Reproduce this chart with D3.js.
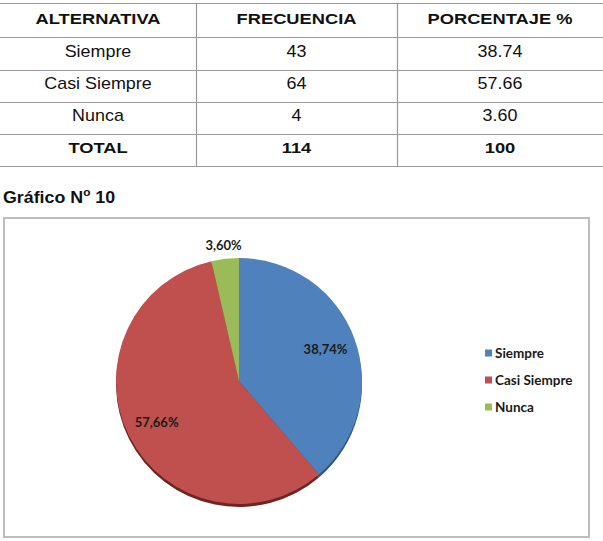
<!DOCTYPE html>
<html><head><meta charset="utf-8">
<script src="https://cdn.jsdelivr.net/npm/d3@7"></script>
<style>body{margin:0;background:#fff;} svg{display:block;}</style>
</head><body>
<svg id="c" width="603" height="541"></svg>
<script>
const headers = ["ALTERNATIVA", "FRECUENCIA", "PORCENTAJE %"];
const categories = ["Siempre", "Casi Siempre", "Nunca"];
const frequencies = [43, 64, 4];
const percentages = [38.74, 57.66, 3.60];
const totalRow = ["TOTAL", "114", "100"];
const colors = ["#4F81BD", "#C0504D", "#9BBB59"];
const shadeColors = ["#2f5482", "#6e2422", "#5c7330"];
const chartTitle = "Gráfico N";

const svg = d3.select("#c");
const font = "'Liberation Sans', Arial, sans-serif";

// ---- Table ----
const colX = [0, 196, 397, 603];
const rowY = [3, 37, 70, 102, 134, 166];
const rows = [headers]
  .concat(categories.map((c, i) => [c, String(frequencies[i]), percentages[i].toFixed(2)]))
  .concat([totalRow]);
const tg = svg.append("g");
rowY.forEach(y => tg.append("line").attr("x1", 0).attr("x2", 603).attr("y1", y + 0.5).attr("y2", y + 0.5)
  .attr("stroke", "#999").attr("stroke-width", 1.2));
[1, 2].forEach(k => tg.append("line").attr("x1", colX[k] + 0.5).attr("x2", colX[k] + 0.5)
  .attr("y1", rowY[0]).attr("y2", rowY[5]).attr("stroke", "#999").attr("stroke-width", 1.2));
rows.forEach((r, ri) => {
  const bold = ri === 0 || ri === rows.length - 1;
  r.forEach((t, ci) => {
    const x = (colX[ci] + colX[ci + 1]) / 2;
    const y = rowY[ri + 1] - 13;
    tg.append("text")
      .attr("transform", `translate(${x},${y}) scale(${bold ? 1.18 : 1.12},1)`)
      .attr("text-anchor", "middle")
      .attr("font-family", font)
      .attr("font-size", bold ? 15.5 : 16)
      .attr("font-weight", bold ? "bold" : "normal")
      .attr("fill", "#111")
      .text(t);
  });
});

// ---- Title ----
const title = svg.append("text").attr("transform", "translate(3,203) scale(1.08,1)")
  .attr("font-family", font).attr("font-size", 16.5).attr("font-weight", "bold").attr("fill", "#111");
title.append("tspan").text(chartTitle);
title.append("tspan").attr("dy", -7).attr("font-size", 11).text("o");
title.append("tspan").attr("dy", 7).text(" 10");

// ---- Chart box ----
svg.append("rect").attr("x", 4).attr("y", 218).attr("width", 585).attr("height", 319)
  .attr("fill", "#fff").attr("stroke", "#bdbdbd").attr("stroke-width", 2);

// ---- Pie ----
const cx = 239, cy = 381, R = 123;
const pie = d3.pie().sort(null).value(d => d)(percentages);
const arc = d3.arc().innerRadius(0).outerRadius(R);
const pg = svg.append("g").attr("transform", `translate(${cx},${cy})`);
// depth shadow
pg.append("g").attr("transform", "translate(0,3)")
  .selectAll("path").data(pie).join("path")
  .attr("d", arc).attr("fill", (d, i) => shadeColors[i]);
pg.selectAll("path.s").data(pie).join("path").attr("class", "s")
  .attr("d", arc).attr("fill", (d, i) => colors[i]);

const inArc = d3.arc().innerRadius(0).outerRadius(R * 1.5);
const outArc = d3.arc().innerRadius(R * 1.11).outerRadius(R * 1.11);
pg.selectAll("text").data(pie).join("text")
  .attr("transform", (d, i) => {
    const p = i === 2 ? outArc.centroid(d) : inArc.centroid(d);
    return `translate(${p[0]},${p[1]})`;
  })
  .attr("text-anchor", "middle").attr("dy", "0.35em")
  .attr("font-family", "Lato, 'Open Sans', sans-serif").attr("font-weight", "bold")
  .attr("font-size", 13).attr("fill", "#1a1a1a")
  .text(d => d.data.toFixed(2).replace(".", ",") + "%");

// ---- Legend ----
const lg = svg.append("g").attr("transform", "translate(485,353)");
categories.forEach((c, i) => {
  const g = lg.append("g").attr("transform", `translate(0,${i * 27})`);
  g.append("rect").attr("x", 0).attr("y", -3.5).attr("width", 7).attr("height", 7).attr("fill", colors[i]);
  g.append("text").attr("x", 10).attr("y", 0).attr("dy", "0.35em")
    .attr("font-family", "Lato, 'Open Sans', sans-serif").attr("font-weight", "bold")
    .attr("font-size", 13.5).attr("fill", "#1a1a1a").text(c);
});
</script>
</body></html>
